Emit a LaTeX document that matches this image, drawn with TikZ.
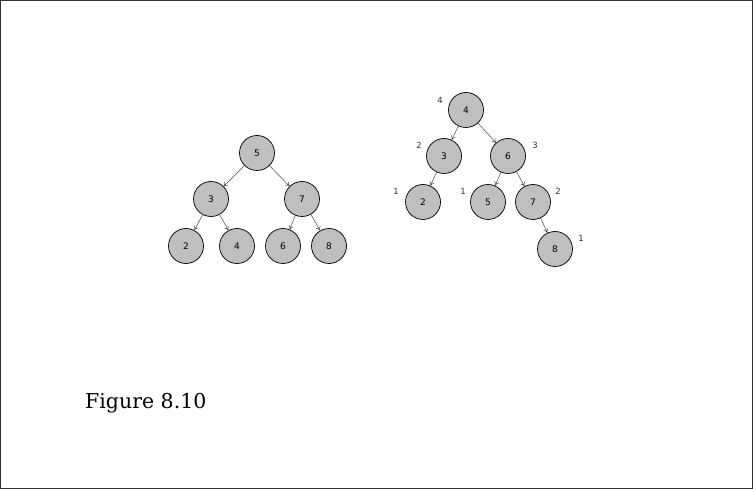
\documentclass[tikz,border=0pt]{standalone}
\usepackage{fontspec}
\setsansfont{DejaVu Sans}
\newfontfamily\capfont{DejaVu Serif}
\usetikzlibrary{arrows.meta}
\definecolor{nodefill}{RGB}{189,192,191}
\definecolor{edgecol}{RGB}{70,70,70}
\begin{document}
\begin{tikzpicture}[x=1pt,y=-1pt,
  tnode/.style={circle,draw=black,line width=0.7pt,fill=nodefill,minimum size=35pt,inner sep=0pt,font=\sffamily\fontsize{9}{10}\selectfont},
  edge/.style={draw=edgecol,line width=0.5pt,-{To[length=4pt,width=5pt]}},
  hlab/.style={font=\sffamily\fontsize{8.5}{10}\selectfont,text=black!80,inner sep=0pt}]
\path[use as bounding box,draw=black!80,line width=1pt] (0.5,0.5) rectangle (752.5,488.5);
% left tree
\node[tnode] (a5) at (257,153) {5};
\node[tnode] (a3) at (211,199) {3};
\node[tnode] (a7) at (302,199) {7};
\node[tnode] (a2) at (186,246) {2};
\node[tnode] (a4) at (237,246) {4};
\node[tnode] (a6) at (283,246) {6};
\node[tnode] (a8) at (329,246) {8};
\draw[edge] (a5) -- (a3);
\draw[edge] (a5) -- (a7);
\draw[edge] (a3) -- (a2);
\draw[edge] (a3) -- (a4);
\draw[edge] (a7) -- (a6);
\draw[edge] (a7) -- (a8);
% right tree
\node[tnode] (b4) at (466,110) {4};
\node[tnode] (b3) at (444,156) {3};
\node[tnode] (b6) at (508,156) {6};
\node[tnode] (b2) at (423,202) {2};
\node[tnode] (b5) at (488,202) {5};
\node[tnode] (b7) at (533,202) {7};
\node[tnode] (b8) at (555,249) {8};
\draw[edge] (b4) -- (b3);
\draw[edge] (b4) -- (b6);
\draw[edge] (b3) -- (b2);
\draw[edge] (b6) -- (b5);
\draw[edge] (b6) -- (b7);
\draw[edge] (b7) -- (b8);
% height labels
\node[hlab] (h4) at (440,100) {4};
\node[hlab] (h3) at (419,145) {2};
\node[hlab] (h6) at (535,145) {3};
\node[hlab] (h2) at (396,191) {1};
\node[hlab] (h5) at (463,191) {1};
\node[hlab] (h7) at (558,191) {2};
\node[hlab] (h8) at (581,238) {1};
% caption
\node[anchor=base west,inner sep=0pt,font=\capfont\fontsize{20.5}{24}\selectfont] (cap) at (85,408) {Figure 8.10};
\end{tikzpicture}
\end{document}
